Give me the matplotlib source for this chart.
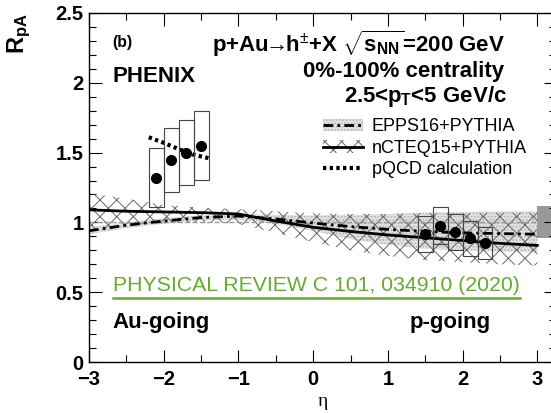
import numpy as np
import matplotlib
matplotlib.use("Agg")
import matplotlib.pyplot as plt
from matplotlib.patches import Rectangle, Patch
from matplotlib.lines import Line2D
from matplotlib.ticker import MultipleLocator, FuncFormatter

plt.rcParams["font.family"] = ["Liberation Sans", "DejaVu Sans"]
plt.rcParams["mathtext.fontset"] = "custom"
plt.rcParams["mathtext.rm"] = "Liberation Sans"
plt.rcParams["mathtext.bf"] = "Liberation Sans:bold"
plt.rcParams["mathtext.it"] = "Liberation Sans:italic"
plt.rcParams["hatch.linewidth"] = 0.7

# ---------------- data ----------------
# PHENIX points, Au-going side
eta_au = [-2.1, -1.9, -1.7, -1.5]
rpa_au = [1.32, 1.445, 1.50, 1.55]
sys_au = [0.21, 0.23, 0.235, 0.245]

# PHENIX points, p-going side
eta_p = [1.5, 1.7, 1.9, 2.1, 2.3]
rpa_p = [0.917, 0.977, 0.929, 0.886, 0.850]
sys_p = [0.13, 0.135, 0.13, 0.125, 0.115]

# global normalisation uncertainty
norm_unc = 0.115

# model curves
eta_th = [-3, -2.5, -2, -1.5, -1, -0.5, 0, 0.5, 1, 1.5, 2, 2.5, 3]

epps_mid = [0.94, 0.98, 1.01, 1.035, 1.045, 1.025, 0.995, 0.97, 0.95, 0.935, 0.925, 0.92, 0.915]
epps_hi = [0.965, 1.0, 1.03, 1.05, 1.06, 1.055, 1.05, 1.055, 1.06, 1.07, 1.075, 1.08, 1.08]
epps_lo = [0.915, 0.96, 0.99, 1.015, 1.02, 0.99, 0.94, 0.88, 0.84, 0.81, 0.80, 0.79, 0.785]

ncteq_mid = [1.09, 1.08, 1.075, 1.07, 1.06, 1.01, 0.965, 0.935, 0.91, 0.89, 0.87, 0.85, 0.835]
ncteq_hi = [1.21, 1.17, 1.125, 1.105, 1.095, 1.08, 1.065, 1.06, 1.06, 1.065, 1.065, 1.07, 1.07]
ncteq_lo = [0.94, 0.98, 0.995, 1.005, 0.99, 0.925, 0.86, 0.80, 0.76, 0.73, 0.715, 0.70, 0.69]

eta_pqcd = [-2.2, -2.0, -1.8, -1.6, -1.4]
rpa_pqcd = [1.61, 1.57, 1.525, 1.485, 1.46]

# ---------------- figure ----------------
fig = plt.figure(figsize=(5.51, 4.13), dpi=100)
ax = fig.add_axes([89 / 551, 51 / 413, 467 / 551, 349 / 413])
ax.set_xlim(-3, 3.25)
ax.set_ylim(0, 2.5)

# bands
ax.fill_between(eta_th, epps_lo, epps_hi, facecolor="#e0e0e0", edgecolor="#b0b0b0",
                hatch=".....", linewidth=0, zorder=1)
ax.fill_between(eta_th, ncteq_lo, ncteq_hi, facecolor="none", edgecolor="#666666",
                hatch="xx", linewidth=0, zorder=2)

ax.plot([-3, 3], [1, 1], color="#999999", ls="--", lw=1, zorder=2)

# curves
dashdot = (0, (3.5, 1.5, 1, 1.5))
ax.plot(eta_th, epps_mid, color="black", lw=2, ls=dashdot, zorder=3)
ax.plot(eta_th, ncteq_mid, color="black", lw=2, zorder=3)
ax.plot(eta_pqcd, rpa_pqcd, color="black", lw=3, ls=(0, (0.8, 0.8)), zorder=3)

# systematic boxes + points
hw = 0.1
for e, r, s in zip(eta_au + eta_p, rpa_au + rpa_p, sys_au + sys_p):
    ax.add_patch(Rectangle((e - hw, r - s), 2 * hw, 2 * s, facecolor="none",
                           edgecolor="#444444", lw=0.8, zorder=4))
ax.plot(eta_au + eta_p, rpa_au + rpa_p, "o", color="black", ms=7, zorder=5)

# normalisation box
ax.add_patch(Rectangle((3.0, 1 - norm_unc), 0.22, 2 * norm_unc, facecolor="#999999",
                       edgecolor="none", zorder=1))

# axes style
ax.xaxis.set_major_locator(MultipleLocator(1))
ax.xaxis.set_minor_locator(MultipleLocator(0.5))
ax.yaxis.set_major_locator(MultipleLocator(0.5))
ax.yaxis.set_minor_locator(MultipleLocator(0.1))
fmt = FuncFormatter(lambda v, p: ("%g" % v).replace("-", "\u2212"))
ax.xaxis.set_major_formatter(fmt)
ax.yaxis.set_major_formatter(fmt)
ax.tick_params(which="both", direction="in", top=True, right=True, width=0.8)
ax.tick_params(which="major", length=9)
ax.tick_params(which="minor", length=5)
ax.tick_params(axis="both", labelsize=14.5)
ax.tick_params(axis="x", pad=6)
ax.tick_params(axis="y", pad=4)
for lab in ax.get_xticklabels() + ax.get_yticklabels():
    lab.set_fontweight("bold")
for sp in ax.spines.values():
    sp.set_linewidth(1)

ax.set_ylabel(r"$\mathbf{R_{pA}}$", fontsize=17, loc="top", labelpad=16)
ax.set_xlabel("\u03b7", fontsize=14, family="Liberation Serif", labelpad=3)

# texts
big = dict(fontsize=16, fontweight="bold", va="baseline")
ax.text(-2.683, 2.254, "(b)", fontsize=11.3, fontweight="bold", va="baseline")
ax.text(-2.683, 2.003, "PHENIX", **big)
ax.text(2.569, 2.223,
        r"p+Au$\!\!\rightarrow\!\!$h$^{\pm}$+X $\sqrt{\mathbf{s_{NN}}}$=200 GeV",
        ha="right", **big)
ax.text(2.556, 2.039, "0%-100% centrality", ha="right", **big)
ax.text(2.596, 1.865, r"2.5<p$_{\mathbf{T}}$<5 GeV/c", ha="right", **big)
ax.text(-2.683, 0.246, "Au-going", **big)
ax.text(1.297, 0.246, "p-going", **big)
green = "#66aa2e"
ref_x, ref_y = -2.683, 0.511
ref = ax.text(ref_x, ref_y, "PHYSICAL REVIEW C 101, 034910 (2020)", fontsize=15.3,
              color=green, va="baseline")

# legend
h_epps = (Patch(facecolor="#e0e0e0", edgecolor="#b0b0b0", hatch=".....", lw=0),
          Line2D([], [], color="black", lw=2, ls=dashdot))
h_ncteq = (Patch(facecolor="none", edgecolor="#666666", hatch="xx", lw=0),
           Line2D([], [], color="black", lw=2))
h_pqcd = Line2D([], [], color="black", lw=3, ls=(0, (0.8, 0.8)))
ax.legend([h_epps, h_ncteq, h_pqcd],
          ["EPPS16+PYTHIA", "nCTEQ15+PYTHIA", "pQCD calculation"],
          loc="upper left", bbox_to_anchor=(0.501, 0.698), frameon=False,
          fontsize=13, handlelength=2.2, handletextpad=0.5, labelspacing=0.25,
          borderpad=0, borderaxespad=0)

# underline the journal reference, a few px under the baseline
fig.canvas.draw()
bb = ref.get_window_extent()
y_base = ax.transData.transform((ref_x, ref_y))[1]
inv = fig.transFigure.inverted()
(x0, yu), (x1, _) = inv.transform([(bb.x0, y_base - 7), (bb.x1, y_base - 7)])
fig.add_artist(Line2D([x0, x1], [yu, yu], color=green, lw=1.8,
                      transform=fig.transFigure))

fig.savefig("out.png", dpi=100)
